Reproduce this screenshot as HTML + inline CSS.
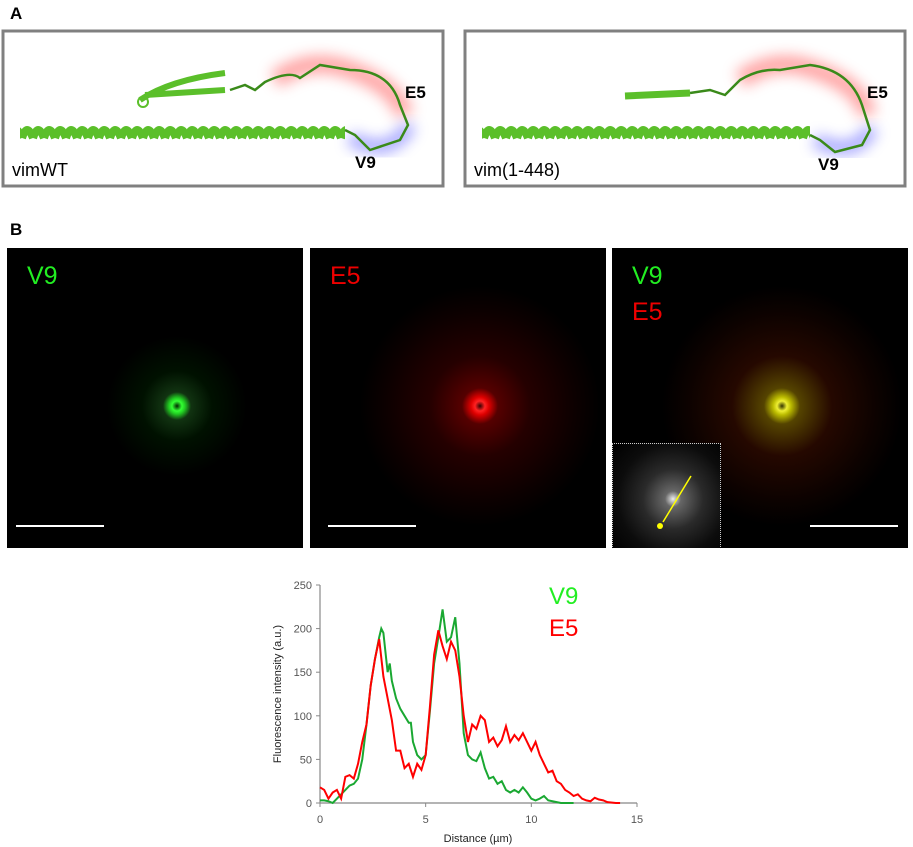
<!DOCTYPE html>
<html><head><meta charset="utf-8"><style>
body{margin:0;background:#fff;width:913px;height:847px;position:relative;overflow:hidden;font-family:"Liberation Sans",sans-serif}
.abs{position:absolute}
.panel{position:absolute;top:248px;width:296px;height:300px;background:#000;overflow:hidden}
.lbl{position:absolute;font-size:25px}
.bar{position:absolute;height:2px;background:#fff;top:526px}
</style></head><body>
<div class="abs" style="left:10px;top:4px;font-weight:bold;font-size:17px">A</div>
<div class="abs" style="left:10px;top:220px;font-weight:bold;font-size:17px">B</div>

<svg class="abs" style="left:0;top:0" width="913" height="200">
<defs><filter id="bl" x="-50%" y="-50%" width="200%" height="200%"><feGaussianBlur stdDeviation="7"/></filter>
<pattern id="hx" width="11" height="24" patternUnits="userSpaceOnUse"><path d="M0 18 Q5 2 11 18" stroke="#5bbf2a" stroke-width="8" fill="none"/></pattern></defs>
<g>
<rect x="3" y="31" width="440" height="155" fill="#fff" stroke="#808080" stroke-width="3"/>
<path d="M275 80 Q310 55 350 70 Q395 85 405 115" stroke="#ff8080" stroke-width="18" fill="none" opacity=".7" filter="url(#bl)"/>
<path d="M350 138 Q390 160 410 125" stroke="#8080ff" stroke-width="14" fill="none" opacity=".7" filter="url(#bl)"/>
<rect x="20" y="120" width="325" height="24" fill="url(#hx)"/>
<path d="M140 100 Q170 80 225 73 M145 95 L225 90" stroke="#5bbf2a" stroke-width="6" fill="none"/>
<circle cx="143" cy="102" r="5" stroke="#5bbf2a" stroke-width="2" fill="none"/>
<path d="M230 90 L245 85 L255 90 L265 82 Q290 70 300 78 L320 65 L350 70 Q390 70 400 105 L408 125 L400 140 L370 150 L355 135 L345 130" stroke="#3a8a1a" stroke-width="2.5" fill="none"/>
<text x="405" y="98" font-family="Liberation Sans" font-weight="bold" font-size="17">E5</text>
<text x="355" y="168" font-family="Liberation Sans" font-weight="bold" font-size="17">V9</text>
<text x="12" y="176" font-family="Liberation Sans" font-size="18">vimWT</text>
</g>
<g>
<rect x="465" y="31" width="440" height="155" fill="#fff" stroke="#808080" stroke-width="3"/>
<path d="M740 80 Q775 55 815 70 Q860 85 868 115" stroke="#ff8080" stroke-width="18" fill="none" opacity=".7" filter="url(#bl)"/>
<path d="M815 140 Q855 160 872 128" stroke="#8080ff" stroke-width="14" fill="none" opacity=".7" filter="url(#bl)"/>
<rect x="482" y="120" width="328" height="24" fill="url(#hx)"/>
<path d="M625 96 L690 93" stroke="#5bbf2a" stroke-width="7" fill="none"/>
<path d="M690 93 L710 90 L725 95 L740 80 Q760 68 780 70 L810 65 Q850 70 862 105 L870 130 L862 145 L835 152 L820 140 L810 135" stroke="#3a8a1a" stroke-width="2.5" fill="none"/>
<text x="867" y="98" font-family="Liberation Sans" font-weight="bold" font-size="17">E5</text>
<text x="818" y="170" font-family="Liberation Sans" font-weight="bold" font-size="17">V9</text>
<text x="474" y="176" font-family="Liberation Sans" font-size="18">vim(1-448)</text>
</g>
</svg>

<div class="panel" style="left:7px;background:radial-gradient(circle at 170px 158px,#020 0,#3f3 5px,#2c2 8px,#131 14px,#010 35px,#000 70px)">
<div class="lbl" style="left:20px;top:14px;color:#2e2">V9</div>
<div class="bar" style="left:9px;top:277px;width:88px"></div>
</div>
<div class="panel" style="left:310px;background:radial-gradient(circle at 170px 158px,#300 0,#f22 5px,#d00 9px,#500 18px,#250000 50px,#0c0000 95px,#000 120px)">
<div class="lbl" style="left:20px;top:14px;color:#e00">E5</div>
<div class="bar" style="left:18px;top:277px;width:88px"></div>
</div>
<div class="panel" style="left:612px;background:radial-gradient(circle at 170px 158px,#330 0,#ee3 5px,#bb0 9px,#540 18px,#250800 50px,#0c0200 95px,#000 120px)">
<div class="lbl" style="left:20px;top:14px;color:#2e2">V9</div>
<div class="lbl" style="left:20px;top:50px;color:#e00">E5</div>
<div class="bar" style="left:198px;top:277px;width:88px"></div>
<div style="position:absolute;left:0;top:195px;width:107px;height:104px;border:1px dotted #ccc;background:radial-gradient(circle at 60px 55px,#eee 0,#666 8px,#2a2a2a 30px,#0c0c0c 55px,#000 80px)">
<svg width="107" height="104"><line x1="50" y1="78" x2="78" y2="32" stroke="#ff0" stroke-width="1.5"/><circle cx="47" cy="82" r="3" fill="#ff0"/></svg>
</div>
</div>

<svg class="abs" style="left:0;top:560px" width="913" height="287" id="chart"></svg>
<script>
const xCats=[0,0.2,0.4,0.6,0.8,1.0,1.2,1.4,1.6,1.8,2.0,2.2,2.4,2.6,2.8,2.9,3.0,3.2,3.3,3.4,3.6,3.8,4.0,4.2,4.3,4.4,4.6,4.8,5.0,5.2,5.4,5.6,5.8,6.0,6.2,6.4,6.6,6.8,7.0,7.2,7.4,7.6,7.8,8.0,8.2,8.4,8.6,8.8,9.0,9.2,9.4,9.6,9.8,10.0,10.2,10.4,10.6,10.8,11.0,11.4,12.0];
const v9Vals=[3,3,2,0,5,10,15,20,22,28,50,90,135,165,190,200,195,150,160,140,120,108,100,92,92,70,55,50,55,105,160,190,222,185,190,213,160,80,55,50,48,58,40,28,30,22,25,15,12,15,12,18,12,5,3,5,8,3,2,0,0];
const e5X=[0,0.2,0.4,0.6,0.8,1.0,1.2,1.4,1.6,1.8,2.0,2.2,2.4,2.6,2.8,3.0,3.2,3.4,3.6,3.8,4.0,4.2,4.4,4.6,4.8,5.0,5.2,5.4,5.6,5.8,6.0,6.2,6.4,6.6,6.8,7.0,7.2,7.4,7.6,7.8,8.0,8.2,8.4,8.6,8.8,9.0,9.2,9.4,9.6,9.8,10.0,10.2,10.4,10.6,10.8,11.0,11.2,11.4,11.6,11.8,12.0,12.2,12.4,12.6,12.8,13.0,13.2,13.4,13.6,14.0,14.2];
const e5Vals=[18,15,5,12,15,5,30,32,28,45,70,90,135,165,188,145,120,95,60,60,40,45,30,45,38,55,110,170,198,180,165,185,175,145,100,70,90,85,100,95,70,75,65,72,88,70,78,72,80,70,60,70,55,45,35,37,25,22,15,12,8,10,5,3,2,6,4,3,1,0,0];
const yTicks=[0,50,100,150,200,250];
const xTicks=[0,5,10,15];
const ns='http://www.w3.org/2000/svg';
const svg=document.getElementById('chart');
const X0=320,X1=637,Y0=243,Y1=25;
const sx=v=>X0+(X1-X0)*v/15, sy=v=>Y0-(Y0-Y1)*v/250;
function mk(t,a){const e=document.createElementNS(ns,t);for(const k in a)e.setAttribute(k,a[k]);svg.appendChild(e);return e;}
let ax=mk('path',{d:`M${X0} ${Y1}V${Y0}H${X1}`,stroke:'#888',fill:'none','stroke-width':1.2});


yTicks.forEach(t=>{const l=mk('line',{x1:X0-4,x2:X0,y1:sy(t),y2:sy(t),stroke:'#888'});


const tx=mk('text',{x:X0-8,y:sy(t)+4,'text-anchor':'end','font-size':11,fill:'#555','font-family':'Liberation Sans'});tx.textContent=t;

});
xTicks.forEach(t=>{const l=mk('line',{x1:sx(t),x2:sx(t),y1:Y0,y2:Y0+4,stroke:'#888'});


const tx=mk('text',{x:sx(t),y:Y0+20,'text-anchor':'middle','font-size':11,fill:'#555','font-family':'Liberation Sans'});tx.textContent=t;

});
const xt=mk('text',{x:478,y:282,'text-anchor':'middle','font-size':11,fill:'#222','font-family':'Liberation Sans'});xt.textContent='Distance (µm)';


const yt=mk('text',{x:0,y:0,'text-anchor':'middle','font-size':11,fill:'#222','font-family':'Liberation Sans',transform:`translate(281 ${(Y0+Y1)/2}) rotate(-90)`});yt.textContent='Fluorescence intensity (a.u.)';


const lg=mk('path',{d:'M'+xCats.map((x,i)=>sx(x)+' '+sy(v9Vals[i])).join('L'),stroke:'#1aa832',fill:'none','stroke-width':2});


const lr=mk('path',{d:'M'+e5X.map((x,i)=>sx(x)+' '+sy(e5Vals[i])).join('L'),stroke:'#f00',fill:'none','stroke-width':2});


const l1=mk('text',{x:549,y:44,'font-size':24,fill:'#2e2','font-family':'Liberation Sans'});l1.textContent='V9';


const l2=mk('text',{x:549,y:76,'font-size':24,fill:'#f00','font-family':'Liberation Sans'});l2.textContent='E5';


</script>
</body></html>
